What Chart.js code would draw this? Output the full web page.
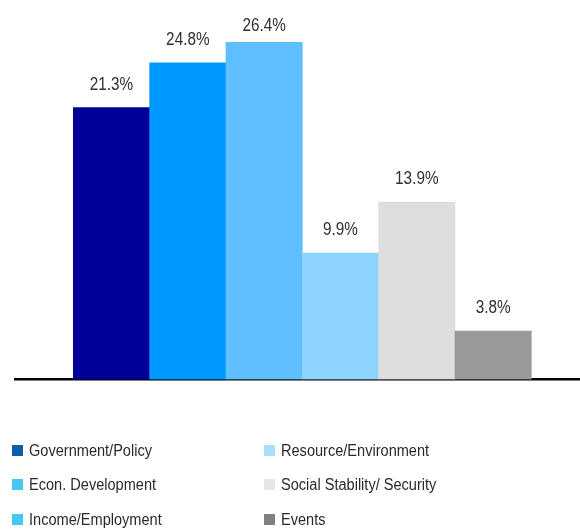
<!DOCTYPE html>
<html>
<head>
<meta charset="utf-8">
<script src="https://cdn.jsdelivr.net/npm/chart.js@4/dist/chart.umd.min.js"></script>
<style>
  html, body { margin: 0; padding: 0; background: #fff; }
  #wrap { position: relative; width: 580px; height: 529px; }
  #chartBox { position: absolute; left: 0; top: 0; width: 580px; height: 400px; }
  .legend { position: absolute; left: 0; top: 0; width: 580px; height: 529px; pointer-events: none;
            font-family: "Liberation Sans", Arial, sans-serif;
            font-size: 16px; color: #2a2a2a; }
  .item { position: absolute; display: flex; align-items: center; white-space: nowrap; }
  .sw { width: 11px; height: 11px; margin-right: 6px; flex: none; }
  .tx { display: inline-block; transform: scaleX(0.91); transform-origin: left center; }
</style>
</head>
<body>
<div id="wrap">
  <div id="chartBox"><canvas id="c"></canvas></div>
  <div class="legend" id="legend"></div>
</div>
<script>
// Share of items by theme (percent)
const categories = ["Government/Policy", "Econ. Development", "Income/Employment",
                    "Resource/Environment", "Social Stability/ Security", "Events"];
const shares = [21.3, 24.8, 26.4, 9.9, 13.9, 3.8];
const barColors = ["#000099", "#0099ff", "#5ebeff", "#8dd3ff", "#dedede", "#999999"];
const legendColors = ["#0b5fac", "#47c8f4", "#47c8f4", "#a9e0f9", "#e5e6e8", "#807f84"];

// Bars sit at x = 1..6 on a linear index axis
const points = shares.map((v, i) => ({ x: i + 1, y: v }));

// Percent labels above each bar, set in a slightly condensed face;
// labels are kept inside the top of the plot area
const valueLabels = {
  id: "valueLabels",
  afterDatasetsDraw(chart) {
    const ctx = chart.ctx;
    const meta = chart.getDatasetMeta(0);
    const topLimit = chart.chartArea.top + 9;
    ctx.save();
    ctx.font = '18px "Liberation Sans", Arial, sans-serif';
    ctx.fillStyle = "#303030";
    ctx.textAlign = "center";
    ctx.textBaseline = "alphabetic";
    meta.data.forEach((bar, i) => {
      ctx.save();
      ctx.translate(bar.x, Math.max(bar.y - 18, topLimit));
      ctx.scale(0.85, 1);
      ctx.fillText(shares[i].toFixed(1) + "%", 0, 0);
      ctx.restore();
    });
    ctx.restore();
  }
};

new Chart(document.getElementById("c"), {
  type: "bar",
  data: {
    datasets: [{
      data: points,
      backgroundColor: barColors,
      borderWidth: 0,
      barPercentage: 1,
      categoryPercentage: 1
    }]
  },
  options: {
    responsive: true,
    maintainAspectRatio: false,
    animation: false,
    layout: { padding: { left: 15, right: 0, top: 22, bottom: 12.5 } },
    plugins: { legend: { display: false }, tooltip: { enabled: false } },
    scales: {
      x: {
        type: "linear",
        min: -0.264,
        max: 7.138,
        offset: false,
        grid: { display: false },
        ticks: { display: false },
        border: { display: true, color: "#000", width: 2.5 }
      },
      y: {
        display: false,
        min: 0,
        max: 28
      }
    }
  },
  plugins: [valueLabels]
});

// Two-column legend below the plot
const legend = document.getElementById("legend");
const colX = [12, 264];
const rowY = [445, 479, 514];
const order = [[0, 0, 0], [1, 0, 1], [2, 0, 2], [3, 1, 0], [4, 1, 1], [5, 1, 2]];
order.forEach(([idx, col, row]) => {
  const el = document.createElement("div");
  el.className = "item";
  el.style.left = colX[col] + "px";
  el.style.top = (rowY[row] - 3) + "px";
  el.style.height = "17px";
  const sw = document.createElement("span");
  sw.className = "sw";
  sw.style.background = legendColors[idx];
  const tx = document.createElement("span");
  tx.className = "tx";
  tx.textContent = categories[idx];
  el.appendChild(sw);
  el.appendChild(tx);
  legend.appendChild(el);
});
</script>
</body>
</html>
